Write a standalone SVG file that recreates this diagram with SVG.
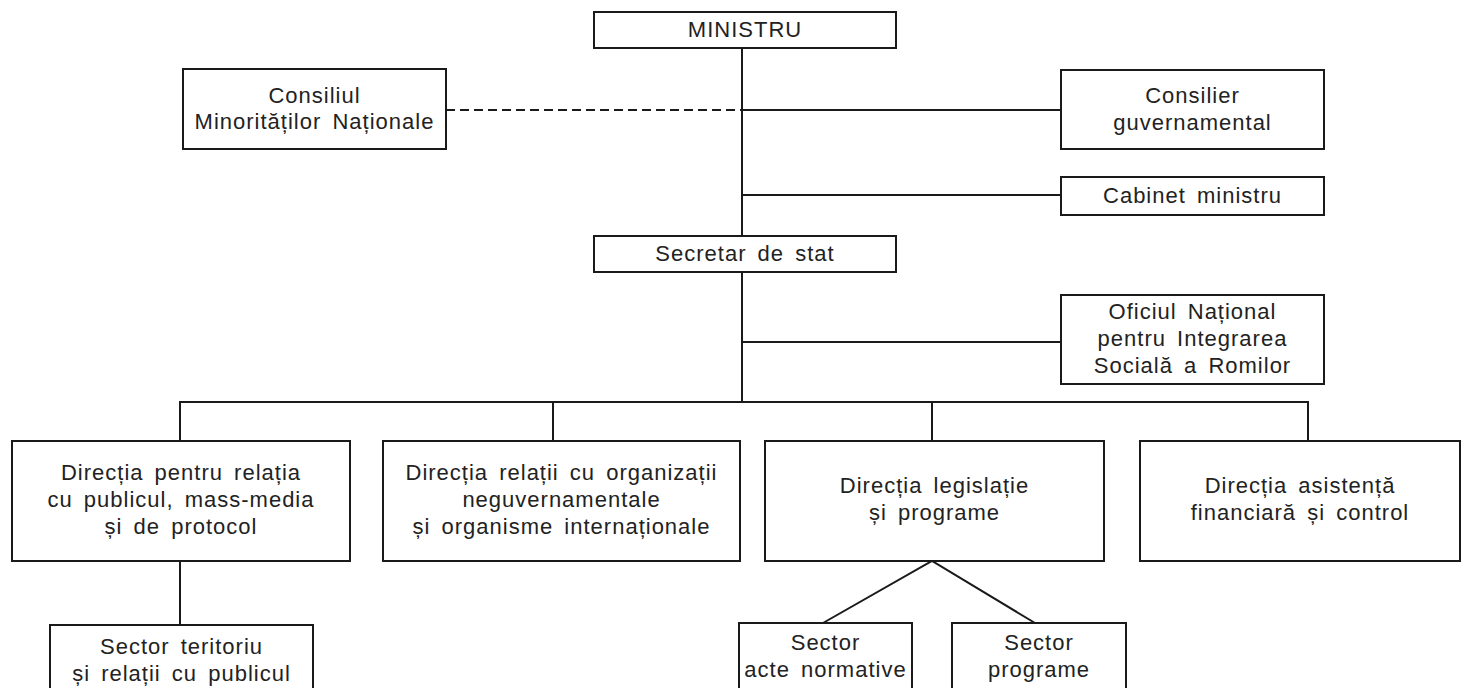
<svg xmlns="http://www.w3.org/2000/svg" width="1468" height="688" viewBox="0 0 1468 688">
<style>
.box{fill:#fff;stroke:#1a1a1a;stroke-width:2}
.ln{stroke:#1a1a1a;stroke-width:2;fill:none}
.dash{stroke:#1a1a1a;stroke-width:2;fill:none;stroke-dasharray:9 5}
text{font-family:"Liberation Sans",Arial,sans-serif;font-size:22px;fill:#222;text-anchor:middle;letter-spacing:1px;word-spacing:4px}
</style>
<rect width="1468" height="688" fill="#fff"/>
<g id="connectors">
<line class="ln" x1="742" y1="48" x2="742" y2="236"/>
<line class="ln" x1="742" y1="272" x2="742" y2="402"/>
<line class="dash" x1="446" y1="110" x2="742" y2="110"/>
<line class="ln" x1="742" y1="110" x2="1061" y2="110"/>
<line class="ln" x1="742" y1="195" x2="1061" y2="195"/>
<line class="ln" x1="742" y1="342" x2="1061" y2="342"/>
<line class="ln" x1="179" y1="402" x2="1309" y2="402"/>
<line class="ln" x1="180" y1="402" x2="180" y2="441"/>
<line class="ln" x1="553" y1="402" x2="553" y2="441"/>
<line class="ln" x1="932" y1="402" x2="932" y2="441"/>
<line class="ln" x1="1308" y1="402" x2="1308" y2="441"/>
<line class="ln" x1="180" y1="561" x2="180" y2="625"/>
<polyline class="ln" points="823,623 932,561 1035,623"/>
</g>
<g id="ministru"><rect class="box" x="594" y="12" width="302" height="36"/><text x="745" y="37">MINISTRU</text></g>
<g id="consiliul"><rect class="box" x="183" y="69" width="263" height="80"/><text x="314.5" y="103">Consiliul</text><text x="314.5" y="129">Minorităților  Naționale</text></g>
<g id="consilier"><rect class="box" x="1061" y="70" width="263" height="79"/><text x="1192.5" y="103">Consilier</text><text x="1192.5" y="130">guvernamental</text></g>
<g id="cabinet"><rect class="box" x="1061" y="177" width="263" height="38"/><text x="1192.5" y="203">Cabinet ministru</text></g>
<g id="secretar"><rect class="box" x="594" y="236" width="302" height="36"/><text x="745" y="261">Secretar de stat</text></g>
<g id="oficiul"><rect class="box" x="1061" y="295" width="263" height="89"/><text x="1192.5" y="319">Oficiul Național</text><text x="1192.5" y="346">pentru Integrarea</text><text x="1192.5" y="373">Socială a Romilor</text></g>
<g id="dir-public"><rect class="box" x="12" y="441" width="338" height="120"/><text x="181" y="480">Direcția pentru relația</text><text x="181" y="507">cu publicul, mass-media</text><text x="181" y="534">și de protocol</text></g>
<g id="dir-ong"><rect class="box" x="383" y="441" width="357" height="120"/><text x="561.5" y="480">Direcția relații cu organizații</text><text x="561.5" y="507">neguvernamentale</text><text x="561.5" y="534">și organisme internaționale</text></g>
<g id="dir-legislatie"><rect class="box" x="765" y="441" width="339" height="120"/><text x="934.5" y="493">Direcția legislație</text><text x="934.5" y="520">și programe</text></g>
<g id="dir-financiar"><rect class="box" x="1140" y="441" width="320" height="120"/><text x="1300" y="493">Direcția asistență</text><text x="1300" y="520">financiară și control</text></g>
<g id="sector-teritoriu"><rect class="box" x="50" y="625" width="263" height="80"/><text x="181.5" y="654">Sector teritoriu</text><text x="181.5" y="681">și relații cu publicul</text></g>
<g id="sector-acte"><rect class="box" x="739" y="623" width="173" height="80"/><text x="825.5" y="650">Sector</text><text x="825.5" y="677">acte normative</text></g>
<g id="sector-programe"><rect class="box" x="952" y="623" width="174" height="80"/><text x="1039" y="650">Sector</text><text x="1039" y="677">programe</text></g>
</svg>
